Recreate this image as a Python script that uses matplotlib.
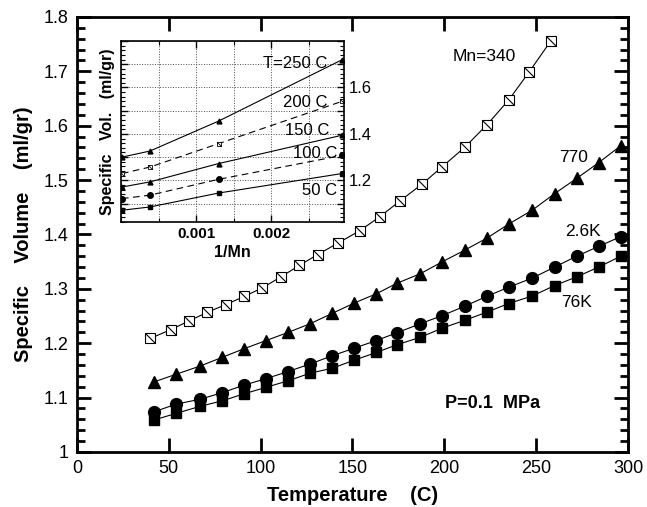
import numpy as np
import matplotlib
matplotlib.use('Agg')
import matplotlib.pyplot as plt
from matplotlib.path import Path
from matplotlib.ticker import MultipleLocator, FixedLocator, FuncFormatter

plt.rcParams['font.family'] = ['Liberation Sans', 'DejaVu Sans']

# main plot data: temperature (C) vs specific volume (ml/gr)
t_340 = [40, 51, 61, 71, 81, 91, 101, 111, 121, 131, 142, 154, 165, 176, 188, 199, 211, 223, 235, 246, 258]
v_340 = [1.209, 1.225, 1.241, 1.257, 1.271, 1.286, 1.302, 1.322, 1.343, 1.363, 1.384, 1.407, 1.433,
         1.462, 1.493, 1.525, 1.560, 1.601, 1.647, 1.698, 1.756]

t_other = [42, 54, 67, 79, 91, 103, 115, 127, 139, 151, 163, 174, 187, 199, 211, 223, 235, 248, 260, 272, 284, 296]
v_770 = [1.129, 1.143, 1.158, 1.174, 1.190, 1.205, 1.220, 1.236, 1.255, 1.274, 1.291, 1.310, 1.328,
         1.350, 1.371, 1.393, 1.419, 1.445, 1.475, 1.503, 1.532, 1.563]
v_2k6 = [1.074, 1.088, 1.097, 1.109, 1.123, 1.135, 1.148, 1.162, 1.177, 1.191, 1.205, 1.219, 1.236,
         1.251, 1.268, 1.286, 1.303, 1.320, 1.340, 1.360, 1.378, 1.396]
v_76k = [1.059, 1.071, 1.084, 1.094, 1.107, 1.119, 1.131, 1.145, 1.154, 1.169, 1.183, 1.197, 1.211,
         1.228, 1.242, 1.257, 1.273, 1.287, 1.306, 1.322, 1.340, 1.360]

# inset data: 1/Mn vs specific volume at fixed temperatures
inv_mn = [1 / 76000, 1 / 2600, 1 / 770, 1 / 340]
v_50 = [1.071, 1.085, 1.145, 1.229]
v_100 = [1.121, 1.136, 1.204, 1.307]
v_150 = [1.171, 1.193, 1.272, 1.394]
v_200 = [1.229, 1.257, 1.358, 1.540]
v_250 = [1.300, 1.326, 1.455, 1.719]

diag = Path([(-1, 1), (1, -1)], [Path.MOVETO, Path.LINETO])

fig = plt.figure(figsize=(6.47, 5.07), dpi=100)
ax = fig.add_axes([0.119, 0.1085, 0.8516, 0.858])

ax.plot(t_340, v_340, '-', color='k', lw=0.8, marker='s', ms=7.5, mfc='white', mec='k', mew=0.8)
ax.plot(t_340, v_340, ls='none', marker=diag, ms=7.5, mec='k', mew=0.8)
ax.plot(t_other, v_770, '-', color='k', lw=0.8, marker='^', ms=8, mfc='k', mec='k')
ax.plot(t_other, v_2k6, '-', color='k', lw=0.8, marker='o', ms=8.5, mfc='k', mec='k')
ax.plot(t_other, v_76k, '-', color='k', lw=0.8, marker='s', ms=7, mfc='k', mec='k')

ax.text(221.6, 1.728, 'Mn=340', fontsize=12.5, ha='center', va='center')
ax.text(270.6, 1.542, '770', fontsize=12.5, ha='center', va='center')
ax.text(275.5, 1.406, '2.6K', fontsize=12.5, ha='center', va='center')
ax.text(272.2, 1.275, '76K', fontsize=12.5, ha='center', va='center')
ax.text(226, 1.089, 'P=0.1  MPa', fontsize=13, fontweight='bold', ha='center', va='center')

ax.set_xlim(0, 300)
ax.set_ylim(1.0, 1.8)
ax.xaxis.set_major_locator(MultipleLocator(50))
ax.yaxis.set_major_locator(MultipleLocator(0.1))
ax.yaxis.set_minor_locator(MultipleLocator(0.02))
ax.yaxis.set_major_formatter(FuncFormatter(lambda v, p: '%g' % round(v, 2)))
ax.tick_params(which='both', direction='in', top=True, right=True, labelsize=13)
ax.tick_params(which='major', length=10, width=2, pad=6)
ax.tick_params(which='minor', length=6, width=2)
for s in ax.spines.values():
    s.set_linewidth(2)
ax.set_xlabel('Temperature    (C)', fontsize=14.5, fontweight='bold', labelpad=6)
ax.set_ylabel('Specific    Volume    (ml/gr)', fontsize=14.5, fontweight='bold', labelpad=8)

# inset
ax_in = fig.add_axes([0.187, 0.562, 0.3447, 0.357])
ax_in.plot(inv_mn, v_250, '-', color='k', lw=0.8, marker='^', ms=3.5)
ax_in.plot(inv_mn, v_200, '--', color='k', lw=0.8, dashes=(6, 4), marker='s', ms=3.5, mfc='white', mec='k', mew=0.6)
ax_in.plot(inv_mn, v_200, ls='none', marker=diag, ms=3.5, mec='k', mew=0.6)
ax_in.plot(inv_mn, v_150, '-', color='k', lw=0.8, marker='^', ms=3.5)
ax_in.plot(inv_mn, v_100, '--', color='k', lw=0.8, dashes=(6, 4), marker='o', ms=4)
ax_in.plot(inv_mn, v_50, '-', color='k', lw=0.8, marker='s', ms=3.5)

ax_in.text(0.00275, 1.703, 'T=250 C', fontsize=12, ha='right', va='center')
ax_in.text(0.00275, 1.535, '200 C', fontsize=12, ha='right', va='center')
ax_in.text(0.00278, 1.415, '150 C', fontsize=12, ha='right', va='center')
ax_in.text(0.00288, 1.316, '100 C', fontsize=12, ha='right', va='center')
ax_in.text(0.00288, 1.157, '50 C', fontsize=12, ha='right', va='center')

ax_in.set_xlim(0, 0.00297)
ax_in.set_ylim(1.02, 1.8)
ax_in.xaxis.set_major_locator(FixedLocator([0.001, 0.002]))
ax_in.xaxis.set_minor_locator(MultipleLocator(0.0005))
ax_in.xaxis.set_major_formatter(FuncFormatter(lambda v, p: '%.3f' % v))
ax_in.yaxis.set_major_locator(MultipleLocator(0.1))
ax_in.yaxis.set_minor_locator(MultipleLocator(0.02))
ax_in.yaxis.set_major_formatter(FuncFormatter(
    lambda v, p: '%.1f' % v if round(v * 10) in (12, 14, 16) else ''))
ax_in.grid(True, which='both', axis='x', ls=':', lw=0.7, color='0.3')
ax_in.grid(True, which='major', axis='y', ls=':', lw=0.7, color='0.3')
ax_in.tick_params(which='both', direction='in', top=True, right=True, left=True,
                  labelleft=False, labelright=True)
ax_in.tick_params(axis='y', labelsize=12)
ax_in.tick_params(axis='x', labelsize=11)
ax_in.tick_params(which='major', length=5, width=1)
ax_in.tick_params(which='minor', length=3, width=0.8)
for lbl in ax_in.get_xticklabels():
    lbl.set_fontweight('bold')
for s in ax_in.spines.values():
    s.set_linewidth(1.2)
ax_in.set_xlabel('1/Mn', fontsize=11.5, fontweight='bold', labelpad=3)
ax_in.set_ylabel('Specific   Vol.   (ml/gr)', fontsize=11.5, fontweight='bold', labelpad=4)

fig.savefig('out.png', dpi=100)
